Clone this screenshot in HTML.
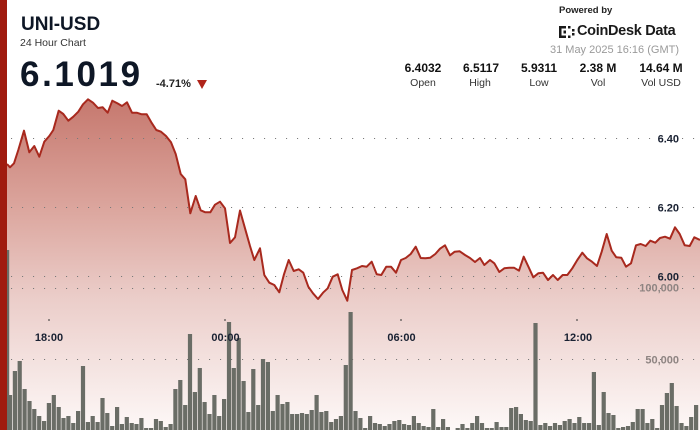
<!DOCTYPE html>
<html><head><meta charset="utf-8"><style>
*{margin:0;padding:0;box-sizing:border-box}
html,body{width:700px;height:430px;overflow:hidden;background:#fff;font-family:"Liberation Sans",sans-serif}
.a{position:absolute;white-space:nowrap}
</style></head><body>
<svg width="700" height="430" viewBox="0 0 700 430" style="position:absolute;left:0;top:0">
<defs>
<linearGradient id="g" x1="0" y1="99" x2="0" y2="430" gradientUnits="userSpaceOnUse">
<stop offset="0" stop-color="#c6786e"/>
<stop offset="0.34" stop-color="#dca79f"/>
<stop offset="0.6" stop-color="#ebcdc9"/>
<stop offset="1" stop-color="#fdf8f7"/>
</linearGradient>
</defs>
<path fill="url(#g)" d="M7,430 L7,164 L10,167.3 L14,163.3 L18.3,150 L24,130.7 L29.3,152.3 L34.3,146 L39.3,156.7 L44.3,141.7 L49.3,136 L53.3,130 L58.7,110.7 L63.3,114 L68.3,120.7 L73.3,116.7 L78.3,111.7 L83,104.3 L88,99.3 L93,102.7 L98,108 L102.7,107.3 L107.7,112.7 L112.3,100.7 L117.3,103.3 L122,106 L127,102.3 L132,112.7 L136.7,112.7 L141.7,114.3 L146.7,114.3 L151.3,122.3 L156.3,130 L161,131.7 L166,136 L171,142.3 L175.7,154 L180.7,174 L185.3,179.3 L190.3,213.3 L195.7,196 L200.7,210.3 L205.3,212.3 L210.3,212.3 L215,204.7 L220,201.7 L225,208.3 L230,243 L235,237.3 L240,210.5 L245,228.3 L250,246 L254.3,260 L260,248.3 L264.3,275 L269.3,282.7 L274.3,285 L279.3,292.3 L284,274.3 L288.7,260 L293.7,271 L298.7,269.3 L303.3,272.7 L308.3,286.7 L313,293.3 L318,299 L323,292.7 L327.7,288.3 L332.7,276.7 L337.7,274.3 L342.3,290 L347.3,300.7 L352,270 L357,268.3 L362,266 L366.7,266.7 L371.7,261.7 L376.7,274.3 L381.3,275 L386.3,266.7 L391,266.7 L396,272.7 L401,260 L405.7,258 L410.7,254 L415.7,246.7 L420.7,258 L425.3,258.3 L430.3,257.7 L435.3,254 L440,248.7 L445,245.3 L450,255.3 L454.7,251.7 L459.7,251.3 L465,255 L470,258 L475,262 L480,258 L484.3,265 L490,260 L494.3,263.3 L499.3,272 L504.3,268.3 L509.3,267.7 L514,267.7 L519,270.7 L523.7,256.7 L528.7,267.3 L533.3,277.3 L538.3,273.3 L543,272.7 L548,280 L553,275 L557.7,280 L562.7,275 L567.3,275 L572.3,268.3 L577.3,260 L582.3,252.7 L587,258.3 L592,261.7 L597,266 L601.7,251.7 L606.7,234 L611.7,250.7 L616.3,257.3 L621.3,257.7 L626,266.7 L631,263.3 L636,245.3 L640.7,244 L645.7,246 L650.3,240.7 L655.3,242.7 L660,238 L665,236.7 L670,238.7 L675,227.3 L679.7,234 L684.7,245.3 L689.7,246 L694.3,237.3 L700,240 L700,430 Z"/>
<g stroke="#7a7a7a" stroke-width="1.1" stroke-dasharray="1.1 9.9" fill="none">
<line x1="11" y1="138.5" x2="698" y2="138.5"/>
<line x1="11" y1="207.5" x2="698" y2="207.5"/>
<line x1="11" y1="276.5" x2="698" y2="276.5"/>
<line x1="11" y1="288.5" x2="698" y2="288.5"/>
<line x1="11" y1="359.5" x2="698" y2="359.5"/>
</g>
<g fill="#6a6d66">
<rect x="7" y="250" width="2.2" height="180"/>
<rect x="7.9" y="395" width="4.2" height="35"/><rect x="12.8" y="371" width="4.2" height="59"/><rect x="17.6" y="361" width="4.2" height="69"/><rect x="22.5" y="389" width="4.2" height="41"/><rect x="27.4" y="401" width="4.2" height="29"/><rect x="32.2" y="409" width="4.2" height="21"/><rect x="37.1" y="416" width="4.2" height="14"/><rect x="42.0" y="421" width="4.2" height="9"/><rect x="46.8" y="403" width="4.2" height="27"/><rect x="51.7" y="395" width="4.2" height="35"/>
<rect x="56.6" y="407" width="4.2" height="23"/><rect x="61.4" y="418" width="4.2" height="12"/><rect x="66.3" y="416" width="4.2" height="14"/><rect x="71.2" y="423" width="4.2" height="7"/><rect x="76.0" y="411" width="4.2" height="19"/><rect x="80.9" y="366" width="4.2" height="64"/><rect x="85.8" y="422" width="4.2" height="8"/><rect x="90.6" y="416" width="4.2" height="14"/><rect x="95.5" y="422" width="4.2" height="8"/><rect x="100.4" y="398" width="4.2" height="32"/>
<rect x="105.2" y="413" width="4.2" height="17"/><rect x="110.1" y="426" width="4.2" height="4"/><rect x="115.0" y="407" width="4.2" height="23"/><rect x="119.8" y="424" width="4.2" height="6"/><rect x="124.7" y="417" width="4.2" height="13"/><rect x="129.6" y="423" width="4.2" height="7"/><rect x="134.4" y="424" width="4.2" height="6"/><rect x="139.3" y="418" width="4.2" height="12"/><rect x="144.1" y="428" width="4.2" height="2"/><rect x="149.0" y="428" width="4.2" height="2"/>
<rect x="153.9" y="419" width="4.2" height="11"/><rect x="158.7" y="421" width="4.2" height="9"/><rect x="163.6" y="427" width="4.2" height="3"/><rect x="168.5" y="424" width="4.2" height="6"/><rect x="173.3" y="389" width="4.2" height="41"/><rect x="178.2" y="380" width="4.2" height="50"/><rect x="183.1" y="405" width="4.2" height="25"/><rect x="187.9" y="334" width="4.2" height="96"/><rect x="192.8" y="392" width="4.2" height="38"/><rect x="197.7" y="368" width="4.2" height="62"/>
<rect x="202.5" y="402" width="4.2" height="28"/><rect x="207.4" y="414" width="4.2" height="16"/><rect x="212.3" y="395" width="4.2" height="35"/><rect x="217.1" y="416" width="4.2" height="14"/><rect x="222.0" y="399" width="4.2" height="31"/><rect x="226.9" y="322" width="4.2" height="108"/><rect x="231.7" y="368" width="4.2" height="62"/><rect x="236.6" y="338" width="4.2" height="92"/><rect x="241.5" y="381" width="4.2" height="49"/><rect x="246.3" y="412" width="4.2" height="18"/>
<rect x="251.2" y="369" width="4.2" height="61"/><rect x="256.1" y="405" width="4.2" height="25"/><rect x="260.9" y="359" width="4.2" height="71"/><rect x="265.8" y="362" width="4.2" height="68"/><rect x="270.7" y="411" width="4.2" height="19"/><rect x="275.5" y="395" width="4.2" height="35"/><rect x="280.4" y="404" width="4.2" height="26"/><rect x="285.3" y="402" width="4.2" height="28"/><rect x="290.1" y="414" width="4.2" height="16"/><rect x="295.0" y="414" width="4.2" height="16"/>
<rect x="299.9" y="413" width="4.2" height="17"/><rect x="304.7" y="414" width="4.2" height="16"/><rect x="309.6" y="410" width="4.2" height="20"/><rect x="314.5" y="395" width="4.2" height="35"/><rect x="319.3" y="412" width="4.2" height="18"/><rect x="324.2" y="411" width="4.2" height="19"/><rect x="329.1" y="422" width="4.2" height="8"/><rect x="333.9" y="419" width="4.2" height="11"/><rect x="338.8" y="416" width="4.2" height="14"/><rect x="343.7" y="365" width="4.2" height="65"/>
<rect x="348.5" y="312" width="4.2" height="118"/><rect x="353.4" y="411" width="4.2" height="19"/><rect x="358.3" y="418" width="4.2" height="12"/><rect x="363.1" y="428" width="4.2" height="2"/><rect x="368.0" y="416" width="4.2" height="14"/><rect x="372.9" y="423" width="4.2" height="7"/><rect x="377.7" y="424" width="4.2" height="6"/><rect x="382.6" y="426" width="4.2" height="4"/><rect x="387.4" y="424" width="4.2" height="6"/><rect x="392.3" y="421" width="4.2" height="9"/>
<rect x="397.2" y="420" width="4.2" height="10"/><rect x="402.0" y="424" width="4.2" height="6"/><rect x="406.9" y="425" width="4.2" height="5"/><rect x="411.8" y="416" width="4.2" height="14"/><rect x="416.6" y="423" width="4.2" height="7"/><rect x="421.5" y="426" width="4.2" height="4"/><rect x="426.4" y="427" width="4.2" height="3"/><rect x="431.2" y="409" width="4.2" height="21"/><rect x="436.1" y="427" width="4.2" height="3"/><rect x="441.0" y="419" width="4.2" height="11"/>
<rect x="445.8" y="427" width="4.2" height="3"/><rect x="455.6" y="428" width="4.2" height="2"/><rect x="460.4" y="424" width="4.2" height="6"/><rect x="465.3" y="428" width="4.2" height="2"/><rect x="470.2" y="423" width="4.2" height="7"/><rect x="475.0" y="416" width="4.2" height="14"/><rect x="479.9" y="423" width="4.2" height="7"/><rect x="484.8" y="428" width="4.2" height="2"/><rect x="489.6" y="428" width="4.2" height="2"/><rect x="494.5" y="422" width="4.2" height="8"/>
<rect x="499.4" y="427" width="4.2" height="3"/><rect x="504.2" y="427" width="4.2" height="3"/><rect x="509.1" y="408" width="4.2" height="22"/><rect x="514.0" y="407" width="4.2" height="23"/><rect x="518.8" y="414" width="4.2" height="16"/><rect x="523.7" y="420" width="4.2" height="10"/><rect x="528.6" y="421" width="4.2" height="9"/><rect x="533.4" y="323" width="4.2" height="107"/><rect x="538.3" y="425" width="4.2" height="5"/><rect x="543.2" y="423" width="4.2" height="7"/>
<rect x="548.0" y="426" width="4.2" height="4"/><rect x="552.9" y="423" width="4.2" height="7"/><rect x="557.8" y="425" width="4.2" height="5"/><rect x="562.6" y="421" width="4.2" height="9"/><rect x="567.5" y="419" width="4.2" height="11"/><rect x="572.4" y="423" width="4.2" height="7"/><rect x="577.2" y="417" width="4.2" height="13"/><rect x="582.1" y="423" width="4.2" height="7"/><rect x="587.0" y="423" width="4.2" height="7"/><rect x="591.8" y="372" width="4.2" height="58"/>
<rect x="596.7" y="425" width="4.2" height="5"/><rect x="601.6" y="392" width="4.2" height="38"/><rect x="606.4" y="413" width="4.2" height="17"/><rect x="611.3" y="415" width="4.2" height="15"/><rect x="616.2" y="428" width="4.2" height="2"/><rect x="621.0" y="427" width="4.2" height="3"/><rect x="625.9" y="426" width="4.2" height="4"/><rect x="630.7" y="422" width="4.2" height="8"/><rect x="635.6" y="409" width="4.2" height="21"/><rect x="640.5" y="409" width="4.2" height="21"/>
<rect x="645.3" y="423" width="4.2" height="7"/><rect x="650.2" y="419" width="4.2" height="11"/><rect x="655.1" y="428" width="4.2" height="2"/><rect x="659.9" y="405" width="4.2" height="25"/><rect x="664.8" y="393" width="4.2" height="37"/><rect x="669.7" y="383" width="4.2" height="47"/><rect x="674.5" y="406" width="4.2" height="24"/><rect x="679.4" y="423" width="4.2" height="7"/><rect x="684.3" y="426" width="4.2" height="4"/><rect x="689.1" y="417" width="4.2" height="13"/>
<rect x="694.0" y="405" width="4.2" height="25"/>
</g>
<polyline fill="none" stroke="#a8291e" stroke-width="2" stroke-linejoin="round" points="7,164 10,167.3 14,163.3 18.3,150 24,130.7 29.3,152.3 34.3,146 39.3,156.7 44.3,141.7 49.3,136 53.3,130 58.7,110.7 63.3,114 68.3,120.7 73.3,116.7 78.3,111.7 83,104.3 88,99.3 93,102.7 98,108 102.7,107.3 107.7,112.7 112.3,100.7 117.3,103.3 122,106 127,102.3 132,112.7 136.7,112.7 141.7,114.3 146.7,114.3 151.3,122.3 156.3,130 161,131.7 166,136 171,142.3 175.7,154 180.7,174 185.3,179.3 190.3,213.3 195.7,196 200.7,210.3 205.3,212.3 210.3,212.3 215,204.7 220,201.7 225,208.3 230,243 235,237.3 240,210.5 245,228.3 250,246 254.3,260 260,248.3 264.3,275 269.3,282.7 274.3,285 279.3,292.3 284,274.3 288.7,260 293.7,271 298.7,269.3 303.3,272.7 308.3,286.7 313,293.3 318,299 323,292.7 327.7,288.3 332.7,276.7 337.7,274.3 342.3,290 347.3,300.7 352,270 357,268.3 362,266 366.7,266.7 371.7,261.7 376.7,274.3 381.3,275 386.3,266.7 391,266.7 396,272.7 401,260 405.7,258 410.7,254 415.7,246.7 420.7,258 425.3,258.3 430.3,257.7 435.3,254 440,248.7 445,245.3 450,255.3 454.7,251.7 459.7,251.3 465,255 470,258 475,262 480,258 484.3,265 490,260 494.3,263.3 499.3,272 504.3,268.3 509.3,267.7 514,267.7 519,270.7 523.7,256.7 528.7,267.3 533.3,277.3 538.3,273.3 543,272.7 548,280 553,275 557.7,280 562.7,275 567.3,275 572.3,268.3 577.3,260 582.3,252.7 587,258.3 592,261.7 597,266 601.7,251.7 606.7,234 611.7,250.7 616.3,257.3 621.3,257.7 626,266.7 631,263.3 636,245.3 640.7,244 645.7,246 650.3,240.7 655.3,242.7 660,238 665,236.7 670,238.7 675,227.3 679.7,234 684.7,245.3 689.7,246 694.3,237.3 700,240"/>
<g fill="#333">
<rect x="48" y="319.5" width="2" height="1"/><rect x="224" y="319.5" width="2" height="1"/><rect x="400" y="319.5" width="2" height="1"/><rect x="576" y="319.5" width="2" height="1"/>
</g>
<g font-family="Liberation Sans, sans-serif" font-weight="bold" font-size="11" fill="#1a2233" text-anchor="middle">
<text x="49" y="341">18:00</text>
<text x="225.5" y="341">00:00</text>
<text x="401.5" y="341">06:00</text>
<text x="578" y="341">12:00</text>
</g>
<g font-family="Liberation Sans, sans-serif" font-weight="bold" font-size="11" text-anchor="end">
<text x="679" y="142.5" fill="#1a2233">6.40</text>
<text x="679" y="211.5" fill="#1a2233">6.20</text>
<text x="679" y="280.7" fill="#1a2233">6.00</text>
<text x="679" y="291.7" fill="#8e8482">100,000</text>
<text x="679" y="363.5" fill="#8e8482">50,000</text>
</g>
<rect x="0" y="0" width="7" height="430" fill="#a01b0f"/>
</svg>

<div class="a" style="left:21px;top:14px;font-size:19px;font-weight:bold;color:#0e1726;line-height:22px">UNI-USD</div>
<div class="a" style="left:20px;top:37px;font-size:10.5px;color:#333;line-height:12px">24 Hour Chart</div>
<div class="a" style="left:20px;top:55px;font-size:35px;font-weight:bold;color:#0e1726;line-height:40px;letter-spacing:2.6px">6.1019</div>
<div class="a" style="left:156px;top:78px;font-size:11px;font-weight:bold;color:#222;line-height:12px">-4.71%</div>
<svg class="a" style="left:196px;top:80px" width="12" height="10" viewBox="0 0 12 10"><polygon points="1,0 11,0 6,9" fill="#b0241a"/></svg>

<div class="a" style="left:559px;top:5px;font-size:9.5px;font-weight:bold;color:#222;line-height:12px">Powered by</div>
<svg class="a" style="left:559px;top:26px" width="17" height="12" viewBox="0 0 17 12">
<g fill="#1a1a1a"><rect x="0" y="0" width="2.5" height="12"/><rect x="0" y="0" width="7" height="2.5"/><rect x="0" y="9.5" width="7" height="2.5"/><rect x="4.5" y="4.5" width="2.5" height="3"/><rect x="9" y="0" width="2.5" height="2.5"/><rect x="9" y="9.5" width="2.5" height="2.5"/><rect x="13" y="3" width="2.5" height="2.5"/><rect x="13" y="7" width="2.5" height="2.5"/></g>
</svg>
<div class="a" style="left:577px;top:22px;font-size:14.5px;font-weight:bold;color:#1a1a1a;line-height:18px;letter-spacing:-0.3px">CoinDesk Data</div>
<div class="a" style="right:21px;top:44px;font-size:11px;color:#9a9a9a;line-height:13px">31 May 2025 16:16 (GMT)</div>

<div class="a" style="left:393px;top:61px;width:60px;text-align:center;font-size:12px;font-weight:bold;color:#111;line-height:14px">6.4032</div>
<div class="a" style="left:451px;top:61px;width:60px;text-align:center;font-size:12px;font-weight:bold;color:#111;line-height:14px">6.5117</div>
<div class="a" style="left:509px;top:61px;width:60px;text-align:center;font-size:12px;font-weight:bold;color:#111;line-height:14px">5.9311</div>
<div class="a" style="left:568px;top:61px;width:60px;text-align:center;font-size:12px;font-weight:bold;color:#111;line-height:14px">2.38 M</div>
<div class="a" style="left:631px;top:61px;width:60px;text-align:center;font-size:12px;font-weight:bold;color:#111;line-height:14px">14.64 M</div>
<div class="a" style="left:393px;top:77px;width:60px;text-align:center;font-size:10.5px;color:#333;line-height:12px">Open</div>
<div class="a" style="left:450px;top:77px;width:60px;text-align:center;font-size:10.5px;color:#333;line-height:12px">High</div>
<div class="a" style="left:509px;top:77px;width:60px;text-align:center;font-size:10.5px;color:#333;line-height:12px">Low</div>
<div class="a" style="left:568px;top:77px;width:60px;text-align:center;font-size:10.5px;color:#333;line-height:12px">Vol</div>
<div class="a" style="left:631px;top:77px;width:60px;text-align:center;font-size:10.5px;color:#333;line-height:12px">Vol USD</div>
</body></html>
